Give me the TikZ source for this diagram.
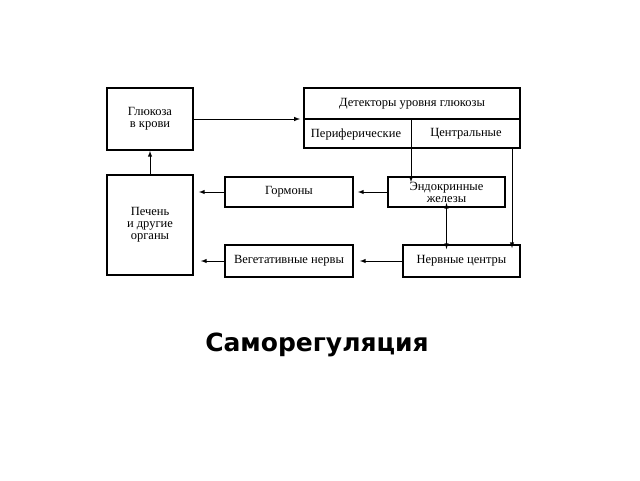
\documentclass[tikz,border=0pt]{standalone}
\usepackage{fontspec}
\setmainfont{Liberation Serif}
\newfontfamily\titlefont{DejaVu Sans}
\begin{document}
\begin{tikzpicture}[x=1pt,y=-1pt,
  box/.style={draw,line width=1.8pt,inner sep=0pt,font=\fontsize{12.5}{12}\selectfont,align=center},
  lbl/.style={font=\fontsize{12.5}{12}\selectfont},
  arr/.style={-latex,line width=1pt}]
\useasboundingbox (0,0) rectangle (640,480);
\node[box,minimum width=86,minimum height=62] (glu) at (150,119) {Глюкоза\\в крови};
\node[box,minimum width=216,minimum height=60] (det) at (412,118) {};
\draw[line width=1.2pt] (304,119) -- (520,119);
\node[lbl] (dt) at (412,104) {Детекторы уровня глюкозы};
\node[lbl] (per) at (356,134) {Периферические};
\node[lbl] (cen) at (466,134) {Центральные};
\node[box,minimum width=86,minimum height=100] (liv) at (150,225) {Печень\\и другие\\органы};
\node[box,minimum width=128,minimum height=30] (hor) at (289,192) {Гормоны};
\node[box,minimum width=117,minimum height=30] (end) at (446.5,192) {Эндокринные\\железы};
\node[box,minimum width=117,minimum height=32] (ner) at (461.5,261) {Нервные центры};
\node[box,minimum width=128,minimum height=32] (veg) at (289,261) {Вегетативные нервы};
\coordinate (c1) at (411,119);
\coordinate (c2) at (512,148);
\draw[arr] (glu.east) -- (300,119);
\draw[arr] (c1) -- ([yshift=-6]end.north -| c1);
\draw[arr] (c2) -- ([yshift=-4]ner.north -| c2);
\draw[arr] (liv.north) -- (glu.south);
\draw[arr] (end.west) -- ([xshift=4]hor.east);
\draw[arr] (hor.west) -- ([xshift=5]liv.east |- hor.west);
\draw[latex-latex,line width=1pt] ([yshift=5]end.south) -- ([yshift=-5]ner.north -| end.south);
\draw[arr] (ner.west) -- ([xshift=6]veg.east);
\draw[arr] (veg.west) -- ([xshift=7]liv.east |- veg.west);
\node[font=\titlefont\bfseries\fontsize{25}{28}\selectfont] (t) at (317,345) {Саморегуляция};
\end{tikzpicture}
\end{document}
